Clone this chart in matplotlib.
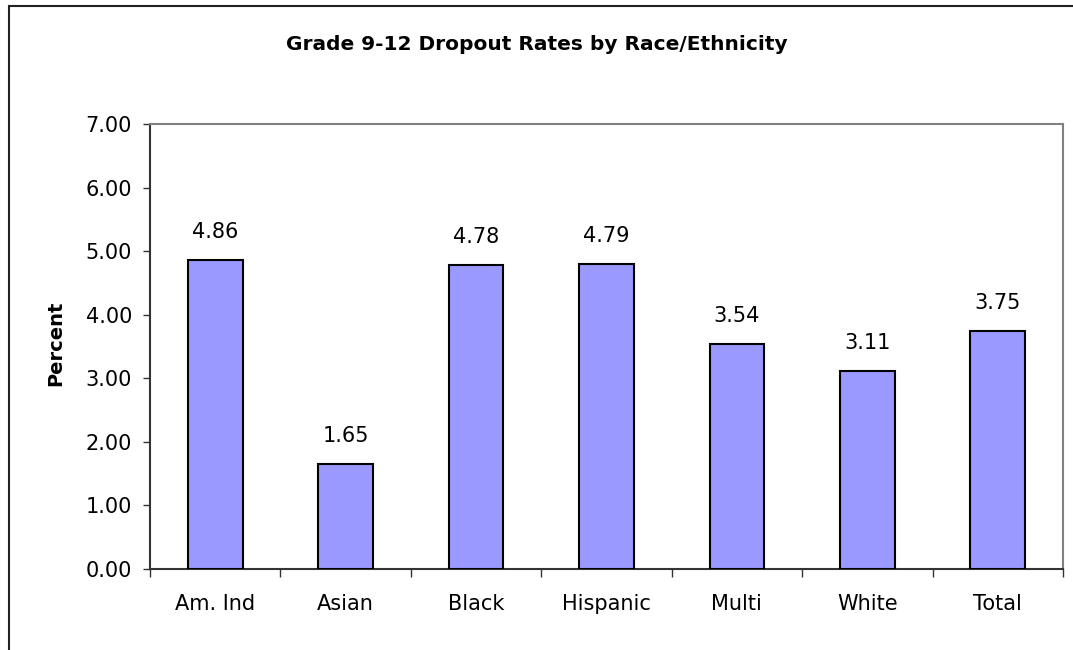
import matplotlib
matplotlib.use("Agg")
import matplotlib.pyplot as plt
from matplotlib.patches import Rectangle
from matplotlib.ticker import FixedLocator, FormatStrFormatter

categories = ["Am. Ind", "Asian", "Black", "Hispanic", "Multi", "White", "Total"]
values = [4.86, 1.65, 4.78, 4.79, 3.54, 3.11, 3.75]
title = "Grade 9-12 Dropout Rates by Race/Ethnicity"
ylabel = "Percent"

plt.rcParams['font.family'] = ['DejaVu Sans']

W, H = 1073, 650
fig = plt.figure(figsize=(W/100, H/100), dpi=100)
ax = fig.add_axes([150/W, 1-569/H, (1063-150)/W, (569-124)/H])

x = range(len(categories))
ax.bar(x, values, width=0.42, color="#9999FF", edgecolor="black", linewidth=1.5, zorder=3)
for i, v in zip(x, values):
    ax.annotate(f"{v:.2f}", (i, v), xytext=(0, 13), textcoords="offset points",
                ha="center", va="bottom", fontsize=15)

ax.set_xlim(-0.5, len(categories)-0.5)
ax.set_ylim(0, 7)
ax.set_yticks(range(0, 8))
ax.yaxis.set_major_formatter(FormatStrFormatter("%.2f"))
ax.tick_params(axis="y", direction="out", length=5, width=1, labelsize=15, pad=8, color="#333333")
ax.set_xticks(list(x))
ax.set_xticklabels(categories)
ax.tick_params(axis="x", which="major", length=0, labelsize=15, pad=18)
ax.xaxis.set_minor_locator(FixedLocator([i-0.5 for i in range(len(categories)+1)]))
ax.tick_params(axis="x", which="minor", direction="out", length=6, width=1, color="#333333")

ax.spines["left"].set_color("#333333")
ax.spines["bottom"].set_color("#333333")
ax.spines["top"].set_color("#808080")
ax.spines["right"].set_color("#808080")
for s in ax.spines.values():
    s.set_linewidth(1.5)

fig.text((286+787)/2/W, 1-45/H, title, ha="center", va="center", fontsize=14.5, fontweight="bold")
fig.text(56/W, 1-343/H, ylabel, ha="center", va="center", rotation=90, fontsize=14, fontweight="bold")

fig.patches.append(Rectangle((9/W, -0.1), 1.2, 1-6/H+0.1, transform=fig.transFigure,
                             fill=False, edgecolor="#222222", linewidth=1.5))

fig.savefig("out.png", dpi=100)
